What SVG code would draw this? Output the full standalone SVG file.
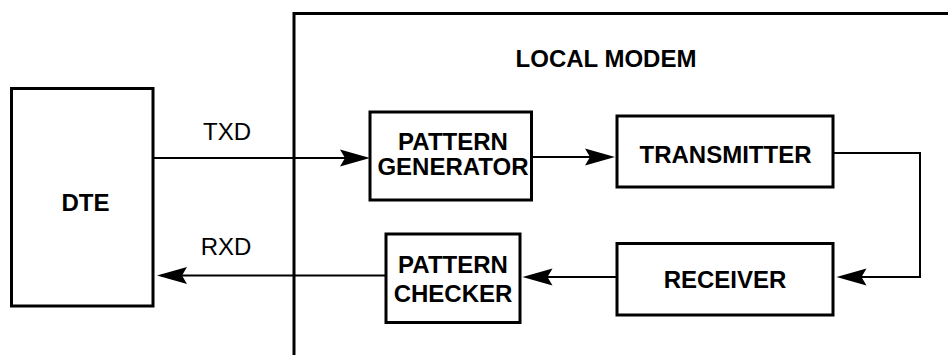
<svg xmlns="http://www.w3.org/2000/svg" width="948" height="355" viewBox="0 0 948 355">
<defs>
<style>
.box{fill:#fff;stroke:#000;stroke-width:3}
.frame{fill:none;stroke:#000;stroke-width:3}
.conn{fill:none;stroke:#000;stroke-width:2}
.lbl{font-family:"Liberation Sans",Arial,sans-serif;font-size:24px;fill:#000;text-anchor:middle}
.b{font-weight:bold}
</style>
<marker id="ah" markerUnits="userSpaceOnUse" markerWidth="32" markerHeight="18" viewBox="0 0 32 18" refX="26" refY="9" orient="auto">
<path d="M30,9 L0,0.5 L5,9 L0,17.5 Z" fill="#000"/>
</marker>
</defs>
<rect width="948" height="355" fill="#fff"/>
<g id="modem-frame">
<path class="frame" d="M294,355 V13.5 H948"/>
<text class="lbl b" x="606" y="67">LOCAL MODEM</text>
</g>
<g id="dte">
<rect class="box" x="11.5" y="88.5" width="141.5" height="217.5"/>
<text class="lbl b" x="85.5" y="211">DTE</text>
</g>
<g id="pattern-generator">
<rect class="box" x="370" y="112" width="161.5" height="88"/>
<text class="lbl b" x="453" y="150">PATTERN</text>
<text class="lbl b" x="453" y="175">GENERATOR</text>
</g>
<g id="transmitter">
<rect class="box" x="617" y="116" width="216" height="71"/>
<text class="lbl b" x="725.5" y="163">TRANSMITTER</text>
</g>
<g id="receiver">
<rect class="box" x="617" y="243.5" width="216" height="71.5"/>
<text class="lbl b" x="725" y="288">RECEIVER</text>
</g>
<g id="pattern-checker">
<rect class="box" x="386" y="234" width="134" height="88.5"/>
<text class="lbl b" x="453" y="273">PATTERN</text>
<text class="lbl b" x="453" y="301.5">CHECKER</text>
</g>
<g id="connectors">
<path class="conn" d="M153,158 H366" marker-end="url(#ah)"/>
<path class="conn" d="M531.5,157 H611" marker-end="url(#ah)"/>
<path class="conn" d="M833,153 H920 V277 H840.5" marker-end="url(#ah)"/>
<path class="conn" d="M617,277 H526.5" marker-end="url(#ah)"/>
<path class="conn" d="M386,275.5 H161" marker-end="url(#ah)"/>
<text class="lbl" x="227" y="140">TXD</text>
<text class="lbl" x="226" y="255">RXD</text>
</g>
</svg>
